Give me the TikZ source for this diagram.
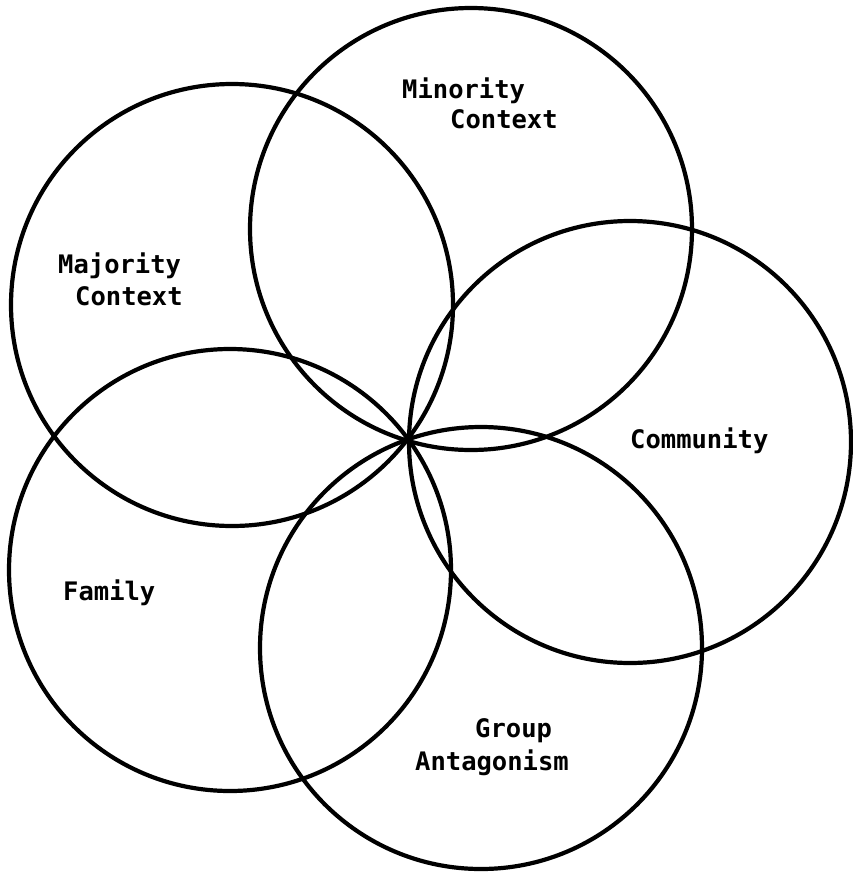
\documentclass[tikz,border=0pt]{standalone}
\usepackage{fontspec}
\newfontfamily\typewriter{DejaVu Sans Mono}
\begin{document}
\begin{tikzpicture}[x=1pt,y=-1pt,
  ring/.style={circle,draw=black,line width=4.2pt,minimum size=442pt,inner sep=0pt},
  label/.style={anchor=base west,inner sep=0pt,font=\typewriter\bfseries\fontsize{25.5}{30}\selectfont}]
  \useasboundingbox (0,0) rectangle (853,879);
  % five overlapping spheres meeting near one point
  \node[ring] (majority)  at (232,305) {};
  \node[ring] (minority)  at (471,229) {};
  \node[ring] (community) at (630,442) {};
  \node[ring] (group)     at (481,648) {};
  \node[ring] (family)    at (230,570) {};
  % labels
  \node[label] (minA) at (402,98)  {Minority};
  \node[label] (minB) at (450,128) {Context};
  \node[label] (majA) at (58,273)  {Majority};
  \node[label] (majB) at (75,305)  {Context};
  \node[label] (com)  at (630,448) {Community};
  \node[label] (fam)  at (63,600)  {Family};
  \node[label] (grpA) at (475,737) {Group};
  \node[label] (grpB) at (415,770) {Antagonism};
\end{tikzpicture}
\end{document}
